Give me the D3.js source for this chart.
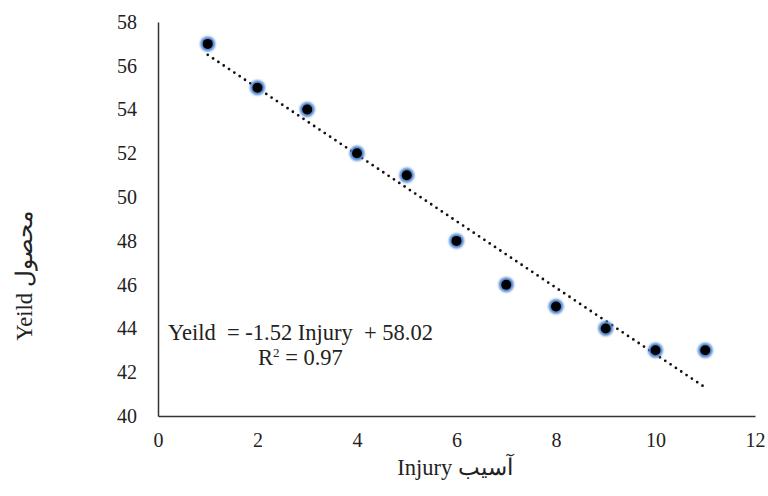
<!DOCTYPE html>
<html>
<head>
<meta charset="utf-8">
<script src="https://cdn.jsdelivr.net/npm/d3@7"></script>
<style>
    body { margin: 0; background: #fff; }
    svg text { font-family: "Liberation Serif", "DejaVu Serif", serif; fill: #222; }
</style>
</head>
<body>
<div id="chart"></div>
<script>
// injury level vs yield
const injury = [1, 2, 3, 4, 5, 6, 7, 8, 9, 10, 11];
const yeild = [57, 55, 54, 52, 51, 48, 46, 45, 44, 43, 43];
const xTicks = [0, 2, 4, 6, 8, 10, 12];
const yTicks = [40, 42, 44, 46, 48, 50, 52, 54, 56, 58];
const slope = -1.52;
const intercept = 58.02;
const equationText = 'Yeild  = -1.52 Injury  + 58.02';

const width = 768;
const height = 496;
const margin = { top: 22, right: 13, bottom: 80, left: 158 };

const svg = d3.select('#chart')
    .append('svg')
    .attr('width', width)
    .attr('height', height);

const x = d3.scaleLinear()
    .domain([0, 12])
    .range([margin.left, width - margin.right]);

const y = d3.scaleLinear()
    .domain([40, 58])
    .range([height - margin.bottom, margin.top]);

// glow for markers
const defs = svg.append('defs');
defs.append('filter')
    .attr('id', 'glow')
    .attr('x', '-50%').attr('y', '-50%')
    .attr('width', '200%').attr('height', '200%')
    .append('feGaussianBlur')
    .attr('stdDeviation', 1.3);

// axes, no tick marks
const xAxis = d3.axisBottom(x).tickValues(xTicks).tickSize(0).tickPadding(17);
const yAxis = d3.axisLeft(y).tickValues(yTicks).tickSize(0).tickPadding(21);

const gx = svg.append('g')
    .attr('transform', `translate(0, ${y(40)})`)
    .call(xAxis);
const gy = svg.append('g')
    .attr('transform', `translate(${x(0)}, 0)`)
    .call(yAxis);

[gx, gy].forEach(g => {
    g.select('.domain').attr('stroke', '#333').attr('stroke-width', 1.5);
    g.selectAll('text')
        .attr('font-size', 20)
        .attr('font-family', '"Liberation Serif", serif')
        .attr('fill', '#222');
});

// trend line
const xMin = d3.min(injury);
const xMax = d3.max(injury);
svg.append('line')
    .attr('x1', x(xMin))
    .attr('y1', y(slope * xMin + intercept))
    .attr('x2', x(xMax))
    .attr('y2', y(slope * xMax + intercept))
    .attr('stroke', '#111')
    .attr('stroke-width', 2.8)
    .attr('stroke-linecap', 'round')
    .attr('stroke-dasharray', '0 6.4');

// markers
const points = injury.map((d, i) => ({ x: d, y: yeild[i] }));

svg.selectAll('.glow')
    .data(points)
    .enter()
    .append('circle')
    .attr('class', 'glow')
    .attr('cx', d => x(d.x))
    .attr('cy', d => y(d.y))
    .attr('r', 7.5)
    .attr('fill', '#4f86d2')
    .attr('filter', 'url(#glow)');

svg.selectAll('.dot')
    .data(points)
    .enter()
    .append('circle')
    .attr('class', 'dot')
    .attr('cx', d => x(d.x))
    .attr('cy', d => y(d.y))
    .attr('r', 5)
    .attr('fill', '#000');

// equation label
svg.append('text')
    .attr('x', 168)
    .attr('y', 340)
    .attr('font-size', 22.5)
    .attr('xml:space', 'preserve')
    .text(equationText);

const r2 = svg.append('text')
    .attr('x', 258)
    .attr('y', 365)
    .attr('font-size', 22.5);
r2.append('tspan').text('R');
r2.append('tspan').attr('font-size', 13).attr('dy', -8).text('2');
r2.append('tspan').attr('dy', 8).text(' = 0.97');

// axis titles
svg.append('text')
    .attr('x', 455)
    .attr('y', 475)
    .attr('text-anchor', 'middle')
    .attr('font-size', 22.5)
    .text('Injury آسیب');

svg.append('text')
    .attr('transform', 'translate(32, 276) rotate(-90)')
    .attr('text-anchor', 'middle')
    .attr('font-size', 22.5)
    .text('Yeild محصول');
</script>
</body>
</html>
